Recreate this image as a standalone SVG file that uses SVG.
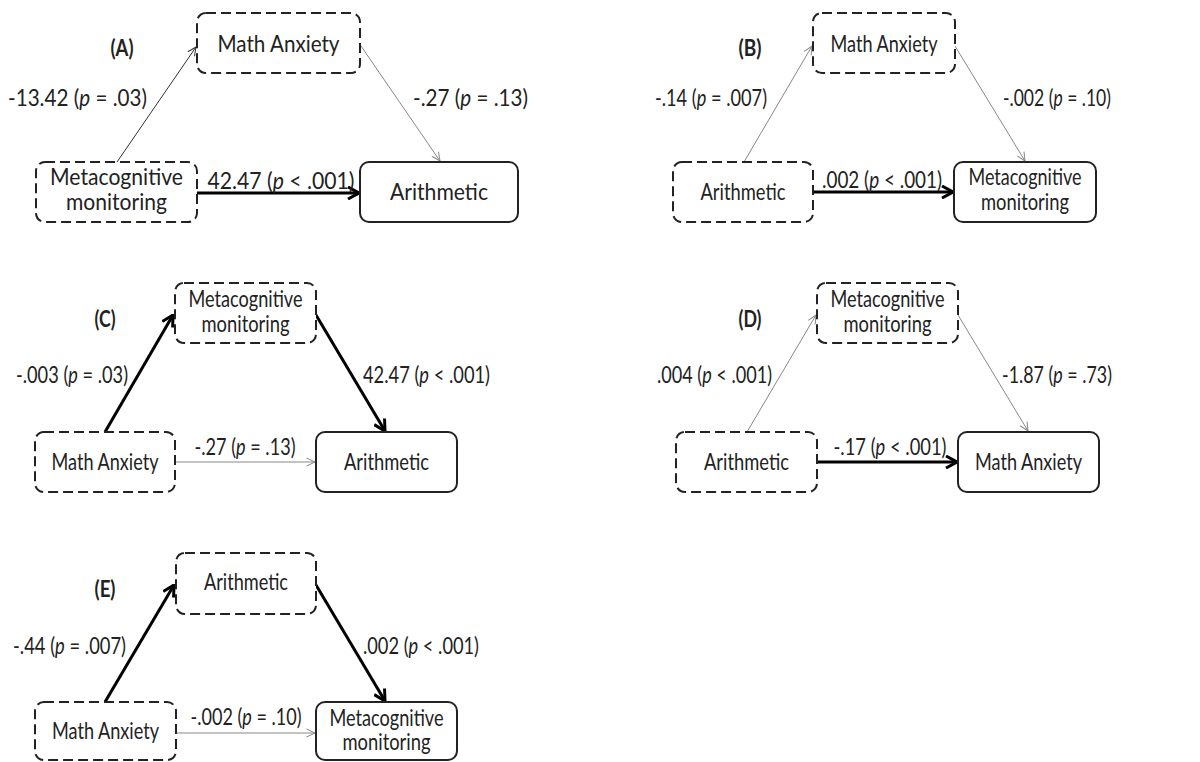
<svg xmlns="http://www.w3.org/2000/svg" width="1200" height="762" viewBox="0 0 1200 762">
<style>
text{font-family:Lato,"Liberation Sans",sans-serif;font-size:23px;fill:#222}
.c{text-anchor:middle}
.e{text-anchor:end}
.b{font-weight:bold}
.i{font-style:italic}
.box{fill:#fff;stroke:#222;stroke-width:2}
.dash{stroke-dasharray:10 5}
.thick{stroke:#000;stroke-width:3;fill:none;marker-end:url(#ahk)}
.thin{stroke:#888;stroke-width:1;fill:none;marker-end:url(#aht)}
.thind{stroke:#333;stroke-width:1;fill:none;marker-end:url(#ahd)}
</style>
<defs>
<marker id="ahk" viewBox="0 0 14 14" refX="13" refY="7" markerWidth="14" markerHeight="14" markerUnits="userSpaceOnUse" orient="auto"><path d="M2,1 L13,7 L2,13" fill="none" stroke="#000" stroke-width="3"/></marker>
<marker id="aht" viewBox="0 0 10 10" refX="9.5" refY="5" markerWidth="10" markerHeight="10" markerUnits="userSpaceOnUse" orient="auto"><path d="M1,1 L9.5,5 L1,9" fill="none" stroke="#888" stroke-width="1"/></marker>
<marker id="ahd" viewBox="0 0 10 10" refX="9.5" refY="5" markerWidth="10" markerHeight="10" markerUnits="userSpaceOnUse" orient="auto"><path d="M1,1 L9.5,5 L1,9" fill="none" stroke="#333" stroke-width="1"/></marker>
</defs>
<rect width="1200" height="762" fill="#fff"/>
<g id="connectors">
<line class="thind" x1="117" y1="162" x2="196" y2="47"/>
<line class="thin" x1="361" y1="46" x2="440" y2="161"/>
<line class="thick" x1="197" y1="193" x2="359" y2="193"/>
<line class="thin" x1="744" y1="162" x2="812" y2="46"/>
<line class="thin" x1="955" y1="46" x2="1025" y2="161"/>
<line class="thick" x1="813" y1="192" x2="953" y2="192"/>
<line class="thick" x1="105" y1="432" x2="173" y2="315"/>
<line class="thick" x1="316" y1="315" x2="385" y2="431"/>
<line class="thin" x1="175" y1="462" x2="315" y2="462"/>
<line class="thin" x1="747" y1="432" x2="816" y2="315"/>
<line class="thin" x1="958" y1="315" x2="1028" y2="431"/>
<line class="thick" x1="817" y1="462" x2="957" y2="462"/>
<line class="thick" x1="105" y1="702" x2="174" y2="585"/>
<line class="thick" x1="316" y1="585" x2="385" y2="701"/>
<line class="thin" x1="176" y1="733" x2="315" y2="733"/>
</g>
<g id="labels">
<text class="c b" x="122" y="56" textLength="23" lengthAdjust="spacingAndGlyphs">(A)</text>
<text class="c b" x="750" y="56" textLength="23" lengthAdjust="spacingAndGlyphs">(B)</text>
<text class="c b" x="105" y="327" textLength="21" lengthAdjust="spacingAndGlyphs">(C)</text>
<text class="c b" x="750" y="327" textLength="23" lengthAdjust="spacingAndGlyphs">(D)</text>
<text class="c b" x="105" y="597" textLength="21" lengthAdjust="spacingAndGlyphs">(E)</text>
<text class="e" x="147" y="106" textLength="139" lengthAdjust="spacingAndGlyphs">-13.42 (<tspan class="i">p</tspan> = .03)</text>
<text x="413" y="106" textLength="115" lengthAdjust="spacingAndGlyphs">-.27 (<tspan class="i">p</tspan> = .13)</text>
<text class="c" x="281" y="189" textLength="147" lengthAdjust="spacingAndGlyphs">42.47 (<tspan class="i">p</tspan> &lt; .001)</text>
<text class="e" x="767" y="106" textLength="112" lengthAdjust="spacingAndGlyphs">-.14 (<tspan class="i">p</tspan> = .007)</text>
<text x="1003" y="106" textLength="108" lengthAdjust="spacingAndGlyphs">-.002 (<tspan class="i">p</tspan> = .10)</text>
<text class="c" x="882" y="188" textLength="120" lengthAdjust="spacingAndGlyphs">.002 (<tspan class="i">p</tspan> &lt; .001)</text>
<text class="e" x="128" y="383" textLength="112" lengthAdjust="spacingAndGlyphs">-.003 (<tspan class="i">p</tspan> = .03)</text>
<text x="363" y="383" textLength="127" lengthAdjust="spacingAndGlyphs">42.47 (<tspan class="i">p</tspan> &lt; .001)</text>
<text class="c" x="245" y="455" textLength="101" lengthAdjust="spacingAndGlyphs">-.27 (<tspan class="i">p</tspan> = .13)</text>
<text class="e" x="772" y="383" textLength="115" lengthAdjust="spacingAndGlyphs">.004 (<tspan class="i">p</tspan> &lt; .001)</text>
<text x="1002" y="383" textLength="110" lengthAdjust="spacingAndGlyphs">-1.87 (<tspan class="i">p</tspan> = .73)</text>
<text class="c" x="890" y="455" textLength="113" lengthAdjust="spacingAndGlyphs">-.17 (<tspan class="i">p</tspan> &lt; .001)</text>
<text class="e" x="126" y="654" textLength="113" lengthAdjust="spacingAndGlyphs">-.44 (<tspan class="i">p</tspan> = .007)</text>
<text x="363" y="654" textLength="116" lengthAdjust="spacingAndGlyphs">.002 (<tspan class="i">p</tspan> &lt; .001)</text>
<text class="c" x="246" y="725" textLength="111" lengthAdjust="spacingAndGlyphs">-.002 (<tspan class="i">p</tspan> = .10)</text>
</g>
<g id="A-mathanxiety"><rect class="box dash" x="197" y="13" width="163" height="60" rx="9"/><text class="c" x="278.5" y="52" textLength="122" lengthAdjust="spacingAndGlyphs">Math Anxiety</text></g>
<g id="A-metacog"><rect class="box dash" x="36" y="162" width="161" height="60" rx="9"/><text class="c" x="116.5" y="185" textLength="133" lengthAdjust="spacingAndGlyphs">Metacognitive</text><text class="c" x="116.5" y="210" textLength="101" lengthAdjust="spacingAndGlyphs">monitoring</text></g>
<g id="A-arithmetic"><rect class="box" x="360" y="162" width="158" height="60" rx="9"/><text class="c" x="439" y="200" textLength="98" lengthAdjust="spacingAndGlyphs">Arithmetic</text></g>
<g id="B-mathanxiety"><rect class="box dash" x="813" y="13" width="142" height="60" rx="9"/><text class="c" x="884" y="52" textLength="107" lengthAdjust="spacingAndGlyphs">Math Anxiety</text></g>
<g id="B-arithmetic"><rect class="box dash" x="673" y="162" width="140" height="60" rx="9"/><text class="c" x="743" y="200" textLength="85" lengthAdjust="spacingAndGlyphs">Arithmetic</text></g>
<g id="B-metacog"><rect class="box" x="954" y="162" width="142" height="60" rx="9"/><text class="c" x="1025" y="185" textLength="113" lengthAdjust="spacingAndGlyphs">Metacognitive</text><text class="c" x="1025" y="210" textLength="88" lengthAdjust="spacingAndGlyphs">monitoring</text></g>
<g id="C-metacog"><rect class="box dash" x="175" y="283" width="141" height="60" rx="9"/><text class="c" x="245.5" y="307" textLength="114" lengthAdjust="spacingAndGlyphs">Metacognitive</text><text class="c" x="245.5" y="332" textLength="88" lengthAdjust="spacingAndGlyphs">monitoring</text></g>
<g id="C-mathanxiety"><rect class="box dash" x="35" y="432" width="140" height="60" rx="9"/><text class="c" x="105" y="470" textLength="107" lengthAdjust="spacingAndGlyphs">Math Anxiety</text></g>
<g id="C-arithmetic"><rect class="box" x="316" y="432" width="141" height="60" rx="9"/><text class="c" x="386.5" y="470" textLength="85" lengthAdjust="spacingAndGlyphs">Arithmetic</text></g>
<g id="D-metacog"><rect class="box dash" x="817" y="283" width="141" height="60" rx="9"/><text class="c" x="887.5" y="307" textLength="114" lengthAdjust="spacingAndGlyphs">Metacognitive</text><text class="c" x="887.5" y="332" textLength="88" lengthAdjust="spacingAndGlyphs">monitoring</text></g>
<g id="D-arithmetic"><rect class="box dash" x="676" y="432" width="141" height="60" rx="9"/><text class="c" x="746.5" y="470" textLength="85" lengthAdjust="spacingAndGlyphs">Arithmetic</text></g>
<g id="D-mathanxiety"><rect class="box" x="958" y="432" width="141" height="60" rx="9"/><text class="c" x="1028.5" y="470" textLength="107" lengthAdjust="spacingAndGlyphs">Math Anxiety</text></g>
<g id="E-arithmetic"><rect class="box dash" x="176" y="553" width="140" height="61" rx="9"/><text class="c" x="246" y="590" textLength="84" lengthAdjust="spacingAndGlyphs">Arithmetic</text></g>
<g id="E-mathanxiety"><rect class="box dash" x="35" y="702" width="141" height="58" rx="9"/><text class="c" x="105.5" y="739" textLength="107" lengthAdjust="spacingAndGlyphs">Math Anxiety</text></g>
<g id="E-metacog"><rect class="box" x="316" y="702" width="141" height="58" rx="9"/><text class="c" x="386.5" y="726" textLength="114" lengthAdjust="spacingAndGlyphs">Metacognitive</text><text class="c" x="386.5" y="750" textLength="88" lengthAdjust="spacingAndGlyphs">monitoring</text></g>
</svg>
